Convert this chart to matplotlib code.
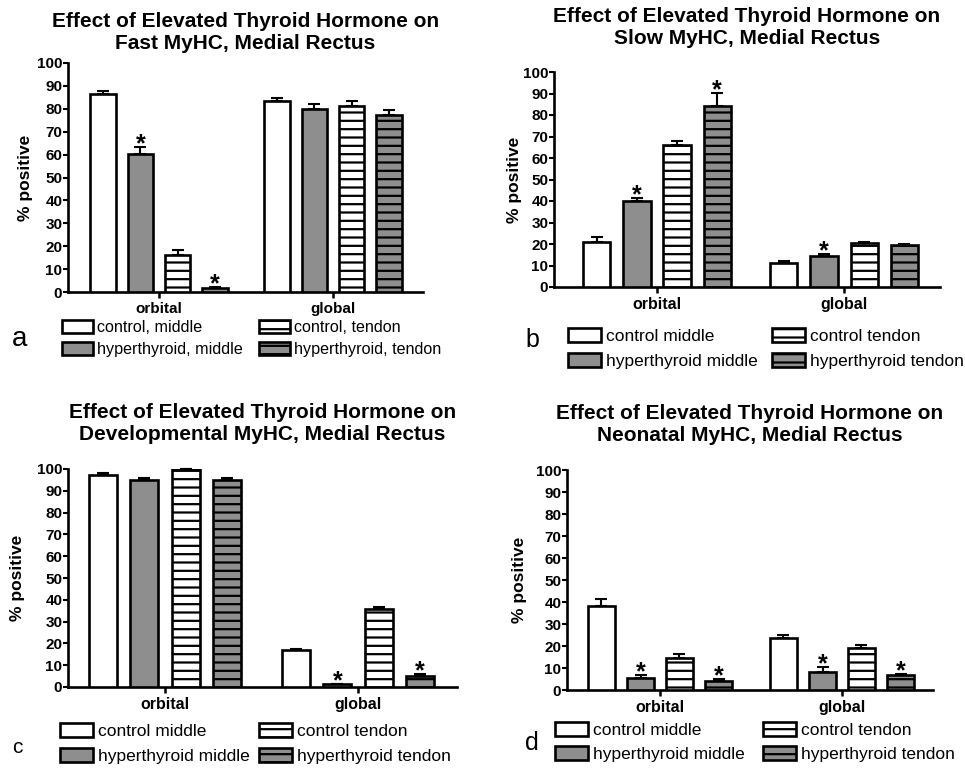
import matplotlib
matplotlib.use('Agg')
import matplotlib.pyplot as plt
from matplotlib.patches import Patch
from matplotlib.legend import Legend
import numpy as np

plt.rcParams['font.family'] = ['Liberation Sans', 'DejaVu Sans']
plt.rcParams['hatch.linewidth'] = 1.6
plt.rcParams['hatch.color'] = 'black'

# ---------------- data ----------------
groups = ['orbital', 'global']
labels_a = ['control, middle', 'hyperthyroid, middle', 'control, tendon', 'hyperthyroid, tendon']
labels_bcd = ['control middle', 'hyperthyroid middle', 'control tendon', 'hyperthyroid tendon']

# each row = series (control middle, hyperthyroid middle, control tendon, hyperthyroid tendon)
# each column = group (orbital, global)
fast_mean = [[86.4, 83.5], [60.2, 79.8], [16.1, 81.1], [1.6, 77.4]]
fast_err = [[1.2, 1.1], [3.1, 2.1], [2.3, 2.1], [0.6, 2.0]]
fast_sig = [[0, 0], [1, 0], [0, 0], [1, 0]]

slow_mean = [[20.8, 11.3], [40.2, 14.4], [66.2, 20.3], [84.3, 19.7]]
slow_err = [[2.6, 0.6], [1.2, 1.1], [1.9, 0.8], [5.9, 0.4]]
slow_sig = [[0, 0], [1, 1], [0, 0], [1, 0]]

dev_mean = [[97.2, 17.2], [94.9, 1.2], [99.8, 35.7], [94.9, 5.1]]
dev_err = [[0.8, 0.3], [0.8, 0.3], [0.2, 1.2], [0.8, 0.7]]
dev_sig = [[0, 0], [0, 1], [0, 0], [0, 1]]

neo_mean = [[38.3, 23.6], [5.6, 8.3], [14.7, 19.2], [4.1, 6.8]]
neo_err = [[3.1, 1.4], [1.1, 2.0], [1.7, 1.3], [0.7, 0.5]]
neo_sig = [[0, 0], [1, 1], [0, 0], [1, 1]]

titles = [
    'Effect of Elevated Thyroid Hormone on\nFast MyHC, Medial Rectus',
    'Effect of Elevated Thyroid Hormone on\nSlow MyHC, Medial Rectus',
    'Effect of Elevated Thyroid Hormone on\nDevelopmental MyHC, Medial Rectus',
    'Effect of Elevated Thyroid Hormone on\nNeonatal MyHC, Medial Rectus',
]
panel_letters = ['a', 'b', 'c', 'd']
yticks = list(range(0, 101, 10))

# ---------------- styles ----------------
GRAY = '#8e8e8e'
faces = ['white', GRAY, 'white', GRAY]
hatches = [None, None, '--', '--']
offsets = [-0.322, -0.107, 0.107, 0.322]
bar_w = 0.145

W, H = 965, 771
fig = plt.figure(figsize=(W / 100, H / 100), dpi=100)

def px_axes(l, t, r, b):
    return [l / W, 1 - b / H, (r - l) / W, (b - t) / H]

panels = [
    dict(rect=px_axes(68, 63, 423, 292), xlim=(-0.523, 1.517), mean=fast_mean, err=fast_err,
         sig=fast_sig, labels=labels_a, title_y=1.135, ylab_x=-0.099, leg_fs=11.6, cat_fs=11,
         leg=[(62, 338.5), (259, 338.5)], letter=(20, 346, 20), lsp=0.45),
    dict(rect=px_axes(554, 72, 940, 287), xlim=(-0.551, 1.513), mean=slow_mean, err=slow_err,
         sig=slow_sig, labels=labels_bcd, title_y=1.205, ylab_x=-0.083, leg_fs=12.5, cat_fs=11.5,
         leg=[(568, 348.5), (772, 348.5)], letter=(532, 347, 18), lsp=0.5),
    dict(rect=px_axes(68, 469, 457, 687), xlim=(-0.503, 1.513), mean=dev_mean, err=dev_err,
         sig=dev_sig, labels=labels_bcd, title_y=1.209, ylab_x=-0.110, leg_fs=12.5, cat_fs=11.5,
         leg=[(60, 743.5), (259, 743.5)], letter=(17, 753, 15), lsp=0.5),
    dict(rect=px_axes(567, 470, 933, 690), xlim=(-0.511, 1.50), mean=neo_mean, err=neo_err,
         sig=neo_sig, labels=labels_bcd, title_y=1.209, ylab_x=-0.109, leg_fs=12.5, cat_fs=11.5,
         leg=[(555, 742), (763, 742)], letter=(532, 750, 18), lsp=0.45),
]

x = np.arange(len(groups))
for i, p in enumerate(panels):
    ax = fig.add_axes(p['rect'])
    handles = []
    for s in range(4):
        xs = x + offsets[s]
        vals = np.array(p['mean'][s])
        errs = np.array(p['err'][s])
        ax.bar(xs, vals, width=bar_w, color=faces[s], edgecolor='black', linewidth=1.9,
               hatch=hatches[s], zorder=3)
        ax.errorbar(xs, vals, yerr=[np.zeros_like(errs), errs], fmt='none', ecolor='black',
                    elinewidth=1.5, capsize=4.5, capthick=1.5, zorder=2, clip_on=False)
        for g in range(len(groups)):
            if p['sig'][s][g]:
                ax.annotate('*', xy=(xs[g], vals[g] + errs[g]), xytext=(0, -3),
                            textcoords='offset points', ha='center', va='baseline',
                            fontsize=18, fontweight='bold', annotation_clip=False)
        handles.append(Patch(facecolor=faces[s], edgecolor='black', linewidth=1.9,
                             hatch=hatches[s], label=p['labels'][s]))
    ax.set_xlim(*p['xlim'])
    ax.set_ylim(0, 100)
    ax.set_yticks(yticks)
    ax.set_yticklabels([str(t) for t in yticks], fontweight='bold', fontsize=11)
    ax.set_xticks(x)
    ax.set_xticklabels(groups, fontweight='bold', fontsize=p['cat_fs'])
    for sp in ['top', 'right']:
        ax.spines[sp].set_visible(False)
    for sp in ['left', 'bottom']:
        ax.spines[sp].set_linewidth(1.9)
    ax.tick_params(axis='y', direction='out', length=3.6, width=1.5, pad=0.5)
    ax.tick_params(axis='x', direction='out', length=4, width=1.8, pad=3)
    ax.set_ylabel('% positive', fontsize=12.5, fontweight='bold')
    ax.yaxis.set_label_coords(p['ylab_x'], 0.5)
    ax.text(0.5, p['title_y'], titles[i], transform=ax.transAxes, ha='center', va='center',
            fontsize=15, fontweight='bold', linespacing=1.2)
    # legend: two columns, each anchored at its own position
    for c in range(2):
        lx, ly = p['leg'][c]
        hs = [handles[c * 2], handles[c * 2 + 1]]
        leg = Legend(ax, hs, [h.get_label() for h in hs], loc='center left',
                     bbox_to_anchor=(lx / W, 1 - ly / H), bbox_transform=fig.transFigure,
                     frameon=False, fontsize=p['leg_fs'], handlelength=1.9, handleheight=0.85,
                     handletextpad=0.3, labelspacing=p['lsp'], borderpad=0, borderaxespad=0)
        ax.add_artist(leg)
    lx, ly, lfs = p['letter']
    fig.text(lx / W, 1 - ly / H, panel_letters[i], ha='center', va='baseline', fontsize=lfs)

fig.savefig('out.png', dpi=100)
